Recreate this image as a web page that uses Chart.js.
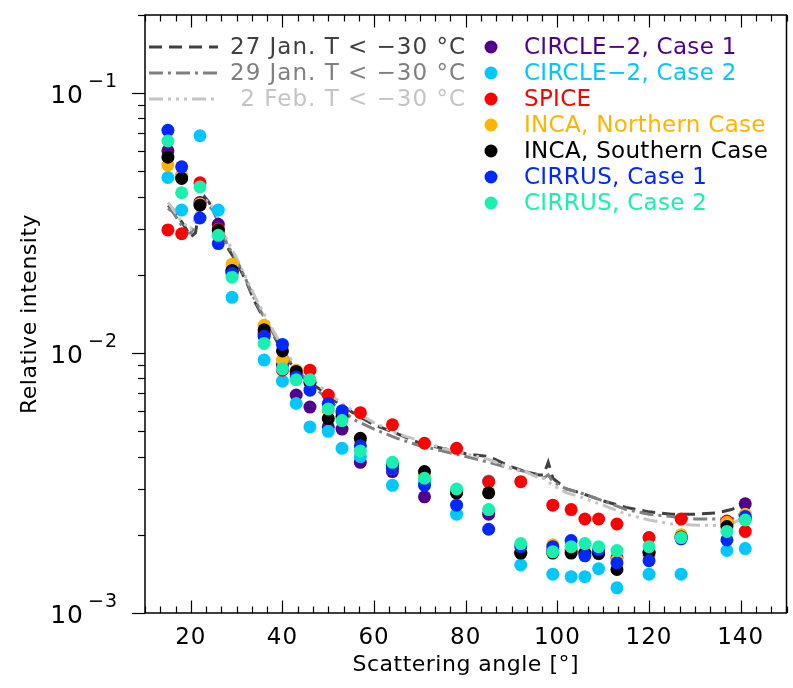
<!DOCTYPE html>
<html lang="en">
<head>
  <meta charset="UTF-8">
  <title>Relative intensity vs scattering angle</title>
  <script src="https://cdn.jsdelivr.net/npm/chart.js"></script>
  <style>
    html, body { margin: 0; padding: 0; background: #fff; }
    #wrap { width: 793px; height: 688px; }
  </style>
</head>
<body>
  <div id="wrap"><canvas id="phaseChart" width="793" height="688"></canvas></div>

  <script>
    // scattering angles of the nephelometer channels
    const angles = [15, 18, 22, 26, 29, 36, 40, 43, 46, 50, 53, 57, 64, 71, 78, 85, 92, 99, 103, 106, 109, 113, 120, 127, 137, 141];

    const circle2Case1 = [0.060, 0.048, 0.038, 0.0313, 0.0206, 0.0118, 0.0090, 0.0069, 0.0062, 0.0052, 0.0051, 0.0038, 0.0035, 0.0028, 0.0029, 0.0024, 0.0017, 0.00175, 0.00175, 0.0017, 0.00169, 0.00163, 0.00172, 0.00195, 0.0022, 0.00263];
    const circle2Case2 = [0.0474, 0.0355, 0.0686, 0.0355, 0.0164, 0.0094, 0.0078, 0.0064, 0.0052, 0.0050, 0.0043, 0.0040, 0.0031, 0.0032, 0.0024, 0.00322, 0.00153, 0.00141, 0.00138, 0.00138, 0.00148, 0.00125, 0.00141, 0.00141, 0.00174, 0.00177];
    const spice        = [0.0298, 0.0288, 0.0452, 0.030, 0.0207, 0.0120, 0.0086, 0.0083, 0.0086, 0.0069, 0.0059, 0.0059, 0.0053, 0.0045, 0.0043, 0.0032, 0.0032, 0.0026, 0.0025, 0.0023, 0.0023, 0.0022, 0.00195, 0.0023, 0.00226, 0.00206];
    const incaNorth    = [0.0529, 0.0484, 0.0375, 0.0288, 0.0220, 0.0128, 0.0094, 0.0086, 0.0078, 0.0060, 0.0056, 0.0046, 0.0036, 0.0034, 0.0029, 0.0029, 0.0017, 0.00183, 0.00175, 0.00172, 0.00175, 0.0016, 0.00166, 0.0020, 0.00223, 0.0024];
    const incaSouth    = [0.0567, 0.0470, 0.0371, 0.0297, 0.0208, 0.0123, 0.0102, 0.0085, 0.0077, 0.0056, 0.0057, 0.0047, 0.0037, 0.0035, 0.0029, 0.0029, 0.0017, 0.0017, 0.0017, 0.0017, 0.0017, 0.00147, 0.0017, 0.00196, 0.00215, 0.0023];
    const cirrusCase1  = [0.0720, 0.0521, 0.0331, 0.0264, 0.0203, 0.0116, 0.0108, 0.0081, 0.0072, 0.0064, 0.0060, 0.0044, 0.0036, 0.0031, 0.0026, 0.0021, 0.0018, 0.0018, 0.0019, 0.00166, 0.00175, 0.00156, 0.00159, 0.00193, 0.00191, 0.00235];
    const cirrusCase2  = [0.0655, 0.0414, 0.0436, 0.0284, 0.0196, 0.0109, 0.0087, 0.0079, 0.0079, 0.0061, 0.0055, 0.0042, 0.0038, 0.0033, 0.0030, 0.0025, 0.00185, 0.00172, 0.0018, 0.00185, 0.0018, 0.00174, 0.0018, 0.00195, 0.00206, 0.00228];

    // campaign curves (T < -30 C)
    const lineAngles = [15, 16, 17, 18, 19, 20, 21, 22, 23, 24, 25, 26, 27, 28, 30, 32, 34, 36, 38, 40, 42, 44, 46, 48, 50, 53, 56, 60, 65, 70, 75, 80, 85, 90, 93, 96, 97, 98, 99, 102, 105, 110, 115, 120, 125, 130, 135, 138, 140];
    const jan27 = [0.037, 0.036, 0.034, 0.032, 0.030, 0.028, 0.029, 0.037, 0.040, 0.038, 0.035, 0.032, 0.029, 0.0255, 0.0224, 0.0190, 0.0157, 0.0135, 0.0118, 0.0101, 0.0090, 0.0082, 0.0077, 0.0073, 0.0068, 0.0063, 0.0058, 0.0053, 0.0049, 0.0045, 0.0043, 0.0041, 0.0040, 0.00365, 0.0035, 0.0034, 0.0034, 0.0038, 0.0033, 0.0030, 0.0029, 0.0027, 0.00255, 0.00245, 0.0024, 0.0024, 0.00243, 0.0025, 0.0026];
    const jan29 = [0.036, 0.035, 0.033, 0.031, 0.029, 0.029, 0.031, 0.036, 0.039, 0.037, 0.035, 0.032, 0.029, 0.026, 0.0228, 0.0192, 0.0160, 0.0137, 0.0119, 0.0103, 0.0091, 0.0083, 0.0077, 0.0071, 0.0066, 0.0060, 0.0055, 0.0051, 0.0047, 0.0044, 0.0042, 0.0040, 0.0038, 0.0036, 0.0035, 0.0034, 0.0033, 0.0034, 0.0032, 0.0030, 0.0029, 0.0027, 0.0025, 0.0024, 0.00235, 0.0023, 0.0023, 0.0023, 0.0024];
    const feb2  = [0.038, 0.036, 0.034, 0.032, 0.031, 0.030, 0.033, 0.038, 0.039, 0.038, 0.036, 0.033, 0.030, 0.027, 0.0232, 0.0196, 0.0165, 0.0141, 0.0122, 0.0106, 0.0094, 0.0085, 0.0080, 0.0075, 0.0070, 0.0064, 0.0059, 0.0054, 0.0049, 0.0046, 0.0043, 0.0041, 0.0039, 0.0036, 0.0035, 0.0033, 0.0033, 0.0032, 0.0031, 0.0029, 0.0028, 0.0026, 0.0024, 0.00228, 0.0022, 0.00218, 0.00217, 0.0022, 0.0023];

    const pointLabels = ['CIRCLE\u22122, Case 1', 'CIRCLE\u22122, Case 2', 'SPICE', 'INCA, Northern Case', 'INCA, Southern Case', 'CIRRUS, Case 1', 'CIRRUS, Case 2'];
    const lineLabels = ['27 Jan. T < \u221230 \u00B0C', '29 Jan. T < \u221230 \u00B0C', '2 Feb. T < \u221230 \u00B0C'];

    const xTickLabels = [20, 40, 60, 80, 100, 120, 140];
    const yTickExponents = [-3, -2, -1];

    const pointColors = ['#50008c', '#00c8ff', '#ff0000', '#ffb400', '#000000', '#0028ff', '#19f0b0'];
    const lineColors = ['#404040', '#808080', '#c4c4c4'];
    const lineDashes = [[13, 7], [14, 5, 3, 5], [14, 5, 3, 5, 3, 5, 3, 5]];
    const FONT = '"DejaVu Sans ExtraLight", "DejaVu Sans", sans-serif';

    const pointSeries = [circle2Case1, circle2Case2, spice, incaNorth, incaSouth, cirrusCase1, cirrusCase2];
    const lineSeries = [jan27, jan29, feb2];

    let datasets = [];
    lineSeries.forEach((vals, i) => {
      datasets.push({
        label: lineLabels[i],
        data: lineAngles.map((a, k) => ({ x: a, y: vals[k] })),
        showLine: true,
        borderColor: lineColors[i],
        borderWidth: 3,
        borderDash: lineDashes[i],
        pointRadius: 0,
        fill: false,
        order: 20 - i
      });
    });
    pointSeries.forEach((vals, i) => {
      datasets.push({
        label: pointLabels[i],
        data: angles.map((a, k) => ({ x: a, y: vals[k] })),
        backgroundColor: pointColors[i],
        borderWidth: 0,
        pointRadius: 6.5,
        order: 10 - i
      });
    });

    // IDL-like box, ticks, labels and legend
    const idlAxes = {
      id: 'idlAxes',
      afterDraw(chart) {
        const ctx = chart.ctx;
        const area = chart.chartArea;
        const xs = chart.scales.x, ys = chart.scales.y;
        ctx.save();
        ctx.strokeStyle = '#000';
        ctx.fillStyle = '#000';
        ctx.lineWidth = 1.5;
        ctx.strokeRect(area.left, area.top, area.right - area.left, area.bottom - area.top);

        // x ticks, inward on bottom and top
        ctx.lineWidth = 1.2;
        for (let k = 0; k <= 42; k++) {
          const v = 10 + k * 10 / 3;
          const px = Math.round(xs.getPixelForValue(v)) + 0.5;
          const major = (k % 6) === 3;
          const len = major ? 12.5 : 6.5;
          ctx.beginPath();
          ctx.moveTo(px, area.bottom); ctx.lineTo(px, area.bottom - len);
          ctx.moveTo(px, area.top); ctx.lineTo(px, area.top + len);
          ctx.stroke();
        }
        // y ticks, outward on the left
        yTickExponents.forEach(e => {
          for (let m = 1; m <= 9; m++) {
            const v = m * Math.pow(10, e);
            if (v > ys.max * 1.0001) continue;
            const py = Math.round(ys.getPixelForValue(v)) + 0.5;
            const len = m === 1 ? 13 : 7;
            ctx.beginPath();
            ctx.moveTo(area.left, py); ctx.lineTo(area.left - len, py);
            ctx.stroke();
          }
        });

        // tick labels
        ctx.font = '23px ' + FONT;
        ctx.textAlign = 'center';
        ctx.textBaseline = 'middle';
        ctx.letterSpacing = '1px';
        xTickLabels.forEach(t => {
          ctx.fillText(String(t), xs.getPixelForValue(t), area.bottom + 25);
        });
        yTickExponents.forEach(e => {
          const py = ys.getPixelForValue(Math.pow(10, e));
          ctx.font = '19px ' + FONT;
          ctx.textAlign = 'right';
          const sup = '\u2212' + Math.abs(e);
          ctx.fillText(sup, 118, py - 11);
          const w = ctx.measureText(sup).width;
          ctx.font = '25px ' + FONT;
          ctx.fillText('10', 118 - w - 4, py + 3);
        });

        // axis titles
        ctx.letterSpacing = '0.5px';
        ctx.font = '22px ' + FONT;
        ctx.textAlign = 'center';
        ctx.fillText('Scattering angle [\u00B0]', (area.left + area.right) / 2, area.bottom + 52);
        ctx.save();
        ctx.translate(30, (area.top + area.bottom) / 2);
        ctx.rotate(-Math.PI / 2);
        ctx.fillText('Relative intensity', 0, 0);
        ctx.restore();

        // legend: curves
        const rowY = k => 47 + k * 26;
        ctx.font = '23px ' + FONT;
        ctx.letterSpacing = '1px';
        lineLabels.forEach((lab, i) => {
          ctx.save();
          ctx.strokeStyle = lineColors[i];
          ctx.lineWidth = 3;
          ctx.setLineDash(lineDashes[i]);
          ctx.beginPath();
          ctx.moveTo(149, rowY(i)); ctx.lineTo(218, rowY(i));
          ctx.stroke();
          ctx.restore();
          ctx.fillStyle = lineColors[i];
          ctx.textAlign = 'right';
          ctx.fillText(lab, 466, rowY(i) + 1);
        });
        // legend: point series
        ctx.letterSpacing = '0.3px';
        pointLabels.forEach((lab, i) => {
          ctx.fillStyle = pointColors[i];
          ctx.beginPath();
          ctx.arc(491, rowY(i), 6.5, 0, Math.PI * 2);
          ctx.fill();
          ctx.textAlign = 'left';
          ctx.fillText(lab, 524, rowY(i) + 1);
        });
        ctx.restore();
      }
    };

    const ctx = document.getElementById('phaseChart').getContext('2d');
    new Chart(ctx, {
      type: 'scatter',
      data: { datasets: datasets },
      options: {
        responsive: false,
        animation: false,
        devicePixelRatio: 1,
        layout: { padding: { left: 145, top: 15, right: 2, bottom: 75 } },
        plugins: { legend: { display: false }, tooltip: { enabled: false } },
        scales: {
          x: { type: 'linear', min: 10, max: 150, display: false },
          y: { type: 'logarithmic', min: 0.001, max: 0.2, display: false }
        }
      },
      plugins: [idlAxes]
    });
  </script>
</body>
</html>
